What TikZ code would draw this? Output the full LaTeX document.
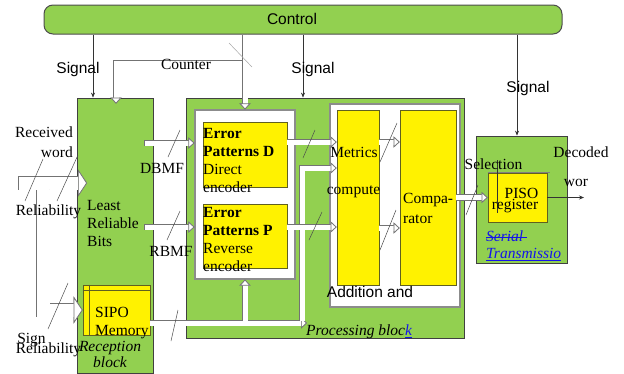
\documentclass[tikz,border=0pt]{standalone}
\usepackage{fontspec}
\setmainfont{Liberation Serif}
\setsansfont{Liberation Sans}
\usetikzlibrary{arrows.meta,calc}
\definecolor{blkgreen}{RGB}{146,208,80}
\definecolor{yborder}{RGB}{96,96,32}
\definecolor{linkblue}{RGB}{20,20,235}
\newsavebox\strkbox
\newcommand\strk[1]{\sbox\strkbox{#1}\rlap{\usebox\strkbox}\rule[0.27em]{\wd\strkbox}{0.06em}}
\tikzset{
  wh/.style 2 args={minimum width=#1, minimum height=#2},
  ctrlbar/.style={draw=black!70, fill=blkgreen, line width=1pt, rounded corners=9pt},
  greenblock/.style={draw=black!75, fill=blkgreen, line width=0.8pt},
  whitebox/.style={draw=black!45, fill=white, line width=1.2pt},
  yellowbox/.style={draw=yborder, fill=yellow, line width=0.8pt},
  sig/.style={draw=black!80, line width=0.6pt, -{Stealth[length=5pt,width=4pt]}},
  % hollow bus: dark wide stroke first, white stroke on top
  busbase/.style={draw=white, line width=5pt,
    -{Triangle[open, fill=white, color=black!55, length=6pt, width=11pt, line width=0.7pt]}},
  bus/.style={busbase, preaction={draw=black!55, line width=6.4pt, shorten <=-0.7pt}},
  branchbus/.style={busbase, preaction={draw=black!55, line width=6.4pt}},
  bigbase/.style={draw=white, line width=13pt,
    -{Triangle[open, fill=white, color=black!55, length=9pt, width=27pt, line width=0.7pt]}},
  bigbus/.style={bigbase, preaction={draw=black!55, line width=14.4pt, shorten <=-0.7pt}},
  bigbranch/.style={bigbase, preaction={draw=black!55, line width=14.4pt}},
  slash/.style={draw=black!70, line width=0.5pt},
  txt/.style={inner sep=0pt},
  sanstxt/.style={inner sep=0pt, font=\sffamily\fontsize{15.5}{18}\selectfont},
  every node/.style={font=\fontsize{15.5}{18}\selectfont}
}
\begin{document}
\begin{tikzpicture}[x=1pt,y=-1pt]
\useasboundingbox (0,0) rectangle (624,373);
% control bus
\node[ctrlbar,wh={518pt}{29pt}] (control) at (303,19.5) {};
\node[sanstxt] (ctrltxt) at (292,19) {Control};

% blocks
\node[greenblock,wh={76pt}{275pt}] (recep) at (115,235.5) {};
\node[greenblock,wh={278pt}{240pt}] (proc) at (325,218) {};
\node[whitebox,wh={100pt}{169pt}] (encbox) at (245,194.5) {};
\node[yellowbox,wh={84pt}{65pt}] (errd) at (245,154.5) {};
\node[yellowbox,wh={84pt}{64pt}] (errp) at (245,236) {};
\node[whitebox,wh={130pt}{203pt}] (addbox) at (395,205.5) {};
\node[yellowbox,wh={42pt}{175pt}] (metric) at (358,197.5) {};
\node[yellowbox,wh={56pt}{175pt}] (compar) at (428,197.5) {};
\node[greenblock,wh={91pt}{127pt}] (serblk) at (521.5,199.5) {};
\node[yellowbox,wh={59pt}{49pt}] (piso) at (517.5,197.5) {};
\node[yellowbox,wh={67pt}{50pt}] (sipo) at (116.5,310) {};
\draw[yborder] ([xshift=7pt]sipo.north west) -- ([xshift=7pt]sipo.south west);
\draw[yborder] ([yshift=-6pt]sipo.north west) -- ([yshift=-6pt]sipo.north east);
\draw[black!50] (piso.north west) -- ([xshift=3pt]piso.north east);

% signals
\coordinate (sg1) at ([xshift=-22pt]recep.north);
\coordinate (sg2) at ([xshift=-22pt]proc.north);
\coordinate (sg3) at ([xshift=-4.5pt]serblk.north);
\draw[sig] (sg1 |- control.south) -- (sg1);
\draw[sig] (sg2 |- control.south) -- (sg2);
\draw[sig] (sg3 |- control.south) -- (sg3);

% counter
\coordinate (cnt) at (245,63);
\coordinate (cntend) at ([xshift=1pt,yshift=-6pt]recep.north);
\draw[branchbus] (cnt) -| (cntend);
\draw[branchbus] (encbox.north |- control.south) -- (encbox.north);

% received word
\coordinate (rw) at (19,183);
\coordinate (rwend) at (87,183);
\coordinate (rwb) at (43,189.5);
\draw[bigbus] (rw) -- (rwend);
\draw[bigbranch] (rwb) |- (sipo.west);

% reception -> processing
\coordinate (dbmf) at (145,143);
\coordinate (rbmf) at (145,227);
\draw[bus] (dbmf) -- (dbmf -| encbox.west);
\draw[bus] (rbmf) -- (rbmf -| encbox.west);
\coordinate (pb) at (307,323);
\coordinate (br1) at (245,321);
\coordinate (br2) at (302,321);
\coordinate (mtin) at ([yshift=29.5pt]metric.west);
\draw[bus] (sipo.east |- pb) -- (pb);
\draw[branchbus] (br1) -- (encbox.south);
\draw[branchbus] (br2) |- (mtin);

% processing
\coordinate (dm) at ([yshift=12.5pt]errd.east);
\coordinate (pm) at ([yshift=9pt]errp.east);
\coordinate (mc1) at ([yshift=55.5pt]metric.east);
\coordinate (mc2) at ([yshift=-30.5pt]metric.east);
\draw[bus] (dm) -- (dm -| metric.west);
\draw[bus] (pm) -- (pm -| metric.west);
\draw[bus] (mc1) -- (mc1 -| compar.west);
\draw[bus] (mc2) -- (mc2 -| compar.west);
\draw[bus] (compar.east) -- (piso.west);

% output
\coordinate (dout) at (584,197.5);
\draw[sig] (piso.east) -- (dout);
\draw[black!80, line width=0.6pt] (497,160) -- (497,213);

% bus width marks
\draw[black!35, line width=0.5pt] (229,43) -- (252,67);
\foreach \xa/\ya/\xb/\yb in {43/159/25/201, 78/155/57/201, 68/283/48/329,
    180/130/168/157, 180/211/167/240, 178/310/171/341,
    315/130/303/158, 322/212/309/240, 397/123/380/162,
    396/210/380/250, 478/185/466/215}
  \draw[slash] (\xa,\ya) -- (\xb,\yb);

% labels
\node[sanstxt] (sgl1) at (78,69) {Signal};
\node[sanstxt] (sgl2) at (313,69) {Signal};
\node[sanstxt] (sgl3) at (528,88) {Signal};
\node[txt] (cntl) at (186,64) {Counter};
\node[txt, anchor=north east, align=right, font=\fontsize{15.5}{20}\selectfont] (rwl) at (73,127) {Received\\word};
\node[txt] (rel1) at (48.5,212) {Reliability};
\node[txt] (sign) at (31.5,340) {Sign};
\node[txt] (rel2) at (48.5,350) {Reliability};
\node[txt] (dbl) at (162,168) {DBMF};
\node[txt] (rbl) at (171,251) {RBMF};
\node[txt, anchor=north west, align=left] (lrb) at (87,200) {Least\\Reliable\\Bits};
\node[txt, anchor=north west, align=left] (sipol) at (95,307) {SIPO\\Memory};
\node[txt, anchor=north, align=center, font=\itshape\fontsize{15.5}{16}\selectfont] (recl) at (110,341) {Reception\\block};
\node[txt, anchor=north west, align=left] (errdl) at (203,128) {\textbf{Error}\\\textbf{Patterns D}\\Direct\\encoder};
\node[txt, anchor=north west, align=left] (errpl) at (203,207) {\textbf{Error}\\\textbf{Patterns P}\\Reverse\\encoder};
\node[txt] (metl) at (354,152) {Metrics};
\node[txt] (coml) at (353.5,192) {compute};
\node[txt, anchor=north west, align=left, font=\fontsize{15.5}{20}\selectfont] (cmpl) at (403,193) {Compa-\\rator};
\node[sanstxt] (addl) at (370,292) {Addition and};
\node[txt, anchor=west, font=\itshape\fontsize{15.5}{18}\selectfont] (procl) at (306,332) {Processing bloc\textcolor{linkblue}{\underline{k}}};
\node[txt] (sell) at (493.5,164) {Selection};
\node[txt] (decl) at (581,152) {Decoded};
\node[txt] (worl) at (576,183) {wor};
\node[txt] (pisol) at (521.5,193) {PISO};
\node[txt] (regl) at (515,206) {register};
\node[txt, anchor=north west, align=left, text=linkblue, font=\itshape\fontsize{15.5}{17}\selectfont] (serl) at (486,231) {\strk{Serial }\\\underline{Transmissio}};
\end{tikzpicture}
\end{document}
